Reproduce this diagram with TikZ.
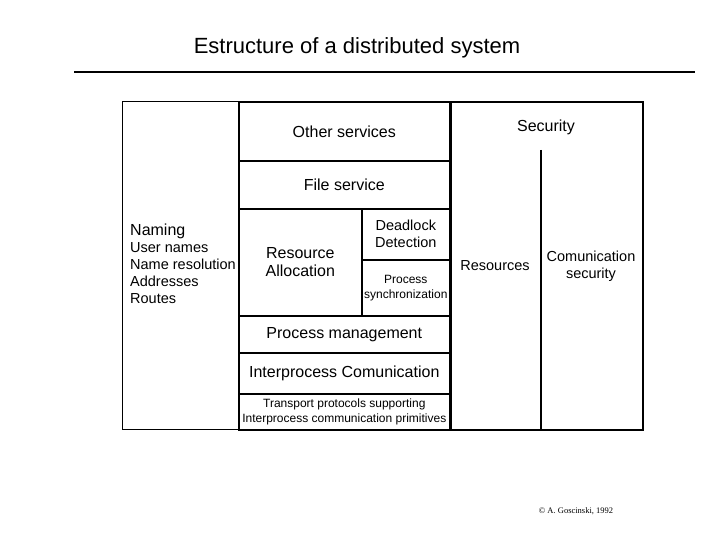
\documentclass[tikz,border=0pt]{standalone}
\usepackage{fontspec}
\setmainfont{Liberation Sans}
\newfontfamily\serfont{Liberation Serif}
\begin{document}
\begin{tikzpicture}[x=1pt,y=-1pt,
    every node/.style={font=\fontsize{16}{18}\selectfont},
    ]
% -------------------------------------------------
% Box styles, placed by their north west corner
\tikzset{
  cell/.style={draw, line width=1.6pt, rectangle, anchor=north west, inner sep=0pt, align=center},
  small/.style={font=\fontsize{12}{15}\selectfont},
  thin/.style={line width=1pt}
}
\useasboundingbox (0,0) rectangle (720,540);
% title and rule
\node (title) at (357,48) {\fontsize{22}{24}\selectfont Estructure of a distributed system};
\draw [line width=2.5pt] (74,72) coordinate (r1) -- (695,72) coordinate (r2);
% -------------------------------------------------
% left column
\node [cell, thin, minimum width=116, minimum height=328] (naming) at (122,101) {};
\node [anchor=north west, inner sep=0pt] (namtxt) at (130,224) {Naming};
\node [anchor=north west, align=left, inner sep=0pt, font=\fontsize{14.5}{17}\selectfont] (namlist) at (130,242)
  {User names\\Name resolution\\Addresses\\Routes};
% middle column, top to bottom
\node [cell, minimum width=211, minimum height=59] (other) at (238,101) {Other services};
\node [cell, minimum width=211, minimum height=48] (file) at (238,160) {File service};
\node [cell, minimum width=123, minimum height=107] (alloc) at (238,208) {Resource\\Allocation};
\node [cell, minimum width=88, minimum height=51, font=\fontsize{14.5}{17}\selectfont] (dead) at (361,208) {Deadlock\\Detection};
\node [cell, minimum width=88, minimum height=56, small] (sync) at (361,259) {Process\\synchronization};
\node [cell, minimum width=211, minimum height=37] (pm) at (238,315) {Process management};
\node [cell, minimum width=211, minimum height=41] (ipc) at (238,352) {Interprocess Comunication};
\node [cell, minimum width=211, minimum height=36, small] (tp) at (238,393) {Transport protocols supporting\\Interprocess communication primitives};
% -------------------------------------------------
% security column
\node [cell, minimum width=192, minimum height=328] (sec) at (450,101) {};
\node (sectxt) at (546,127) {Security};
\coordinate (c1) at (541,150);
\draw [line width=1.6pt] (c1) -- (c1 |- sec.south);
\node [font=\fontsize{14.5}{17}\selectfont] (res) at (495,266) {Resources};
\node [align=center, font=\fontsize{14.5}{17}\selectfont] (comsec) at (591,266) {Comunication\\security};
% -------------------------------------------------
\node [font=\serfont\fontsize{8.5}{10}\selectfont] (copy) at (576,511) {\textcopyright\ A. Goscinski, 1992};
\end{tikzpicture}
\end{document}
